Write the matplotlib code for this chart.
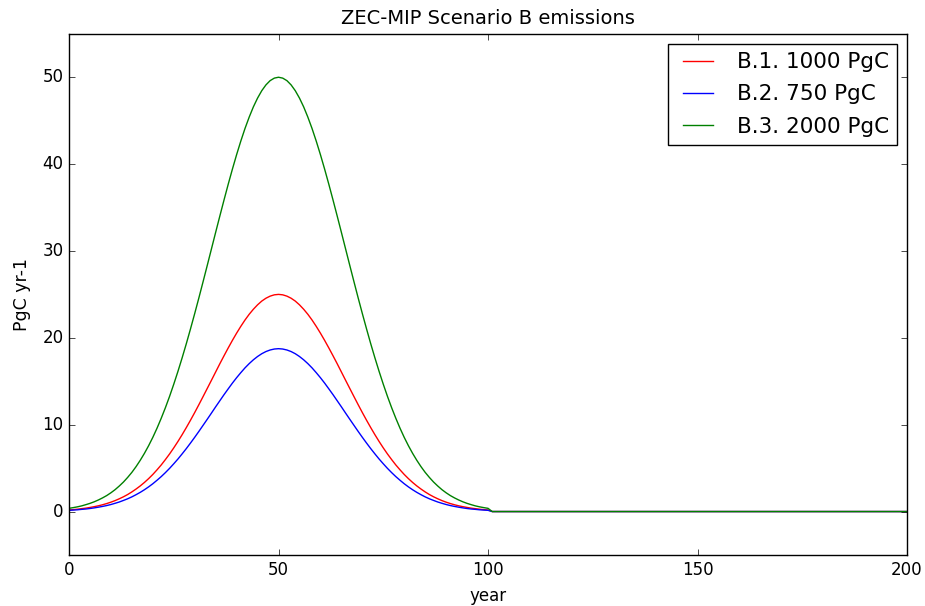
import matplotlib
matplotlib.use('Agg')
import matplotlib.pyplot as plt
import numpy as np

# annual emissions during the rising half of the pulse, years 0..50 (PgC/yr)
# the falling half (50..100) mirrors it
b1_half = [0.18, 0.22, 0.27, 0.33, 0.39, 0.47, 0.56, 0.66, 0.78, 0.92,
           1.08, 1.26, 1.47, 1.70, 1.96, 2.26, 2.59, 2.95, 3.35, 3.79,
           4.27, 4.80, 5.36, 5.98, 6.63, 7.33, 8.07, 8.85, 9.67, 10.52,
           11.40, 12.31, 13.24, 14.18, 15.12, 16.07, 17.02, 17.94, 18.84, 19.71,
           20.54, 21.32, 22.05, 22.71, 23.29, 23.80, 24.23, 24.56, 24.80, 24.95,
           25.00]
b2_half = [0.14, 0.17, 0.20, 0.25, 0.29, 0.35, 0.42, 0.50, 0.59, 0.69,
           0.81, 0.95, 1.10, 1.28, 1.47, 1.69, 1.94, 2.21, 2.51, 2.84,
           3.20, 3.60, 4.02, 4.48, 4.97, 5.50, 6.05, 6.64, 7.25, 7.89,
           8.55, 9.23, 9.93, 10.63, 11.34, 12.06, 12.76, 13.46, 14.13, 14.79,
           15.41, 15.99, 16.54, 17.03, 17.47, 17.85, 18.17, 18.42, 18.60, 18.71,
           18.75]
b3_half = [0.37, 0.45, 0.54, 0.65, 0.79, 0.94, 1.12, 1.33, 1.57, 1.84,
           2.16, 2.52, 2.94, 3.40, 3.93, 4.51, 5.17, 5.90, 6.70, 7.58,
           8.54, 9.59, 10.73, 11.95, 13.26, 14.66, 16.14, 17.70, 19.33, 21.04,
           22.80, 24.61, 26.47, 28.35, 30.25, 32.15, 34.03, 35.88, 37.69, 39.43,
           41.09, 42.65, 44.10, 45.41, 46.59, 47.60, 48.45, 49.12, 49.61, 49.90,
           50.00]
# after the pulse emissions are zero
tail_years = [101, 200]
tail_values = [0.0, 0.0]

labels = ['B.1. 1000 PgC', 'B.2. 750 PgC', 'B.3. 2000 PgC']
colors = ['r', 'b', 'g']


def full_series(half):
    # rising half, mirrored falling half, then zeros
    return list(half) + list(half[-2::-1]) + tail_values


years = list(range(0, 101)) + tail_years

plt.style.use('classic')
fig = plt.figure(figsize=(9.25, 6.06), dpi=100, facecolor='white')
ax = fig.add_axes([0.0746, 0.0842, 0.906, 0.860])

for half, lab, col in zip([b1_half, b2_half, b3_half], labels, colors):
    ax.plot(years, full_series(half), color=col, label=lab)

ax.set_xlim(0, 200)
ax.set_ylim(-5, 55)
ax.set_xticks([0, 50, 100, 150, 200])
ax.set_yticks([0, 10, 20, 30, 40, 50])
ax.tick_params(labelsize=12)
ax.set_title('ZEC-MIP Scenario B emissions', fontsize=14, y=1.005)
ax.set_xlabel('year', fontsize=12, labelpad=6)
ax.set_ylabel('PgC yr-1', fontsize=12.5, labelpad=8)
ax.legend(loc='upper right', fontsize=15.5, handlelength=2.0,
          handletextpad=0.8, labelspacing=0.57, borderaxespad=0.45)

fig.savefig('out.png', dpi=100, facecolor='white')
